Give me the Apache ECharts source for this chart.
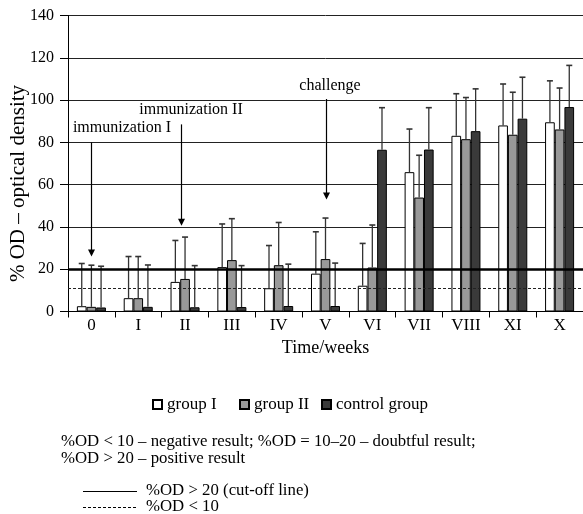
<!DOCTYPE html>
<html>
<head>
<meta charset="utf-8">
<script src="https://cdn.jsdelivr.net/npm/echarts@6/dist/echarts.min.js"></script>
<style>
html,body{margin:0;padding:0;background:#fff;}
#main{width:583px;height:514px;}
</style>
</head>
<body>
<div id="main"></div>
<script>
// ---- data ----
const categories = ['0','I','II','III','IV','V','VI','VII','VIII','XI','X'];
const groupI      = [2.5, 6.3, 14.0, 21.0, 11.0, 17.9, 12.2, 65.9, 83.1, 88.0, 89.5];
const groupIErr   = [22.7, 26.0, 33.6, 41.4, 31.2, 37.7, 32.2, 86.3, 103.0, 107.6, 109.1];
const groupII     = [2.2, 6.3, 15.4, 24.3, 21.9, 24.8, 20.8, 53.9, 81.5, 83.6, 86.1];
const groupIIErr  = [21.9, 26.0, 35.2, 43.9, 42.1, 44.2, 40.9, 73.9, 101.2, 103.7, 105.7];
const control     = [1.9, 2.2, 2.0, 2.1, 2.6, 2.6, 76.5, 76.6, 85.3, 91.2, 96.7];
const controlErr  = [21.4, 22.0, 21.7, 21.7, 22.4, 22.9, 96.4, 96.4, 105.3, 110.8, 116.4];
const seriesNames = ['group I', 'group II', 'control group'];
const yTicks = {min: 0, max: 140, interval: 20};
const cutoffHigh = 20;
const cutoffLow = 10.8;
// annotations: label, category, arrow start value, arrow tip value
const annoLabels = ['immunization I', 'immunization II', 'challenge'];
const annoCats   = ['0', 'II', 'V'];
const annoFrom   = [80, 88.5, 100.5];
const annoTo     = [26, 40.6, 53];

const FONT = 'Liberation Serif';
const colors = ['#ffffff', '#999999', '#3a3a3a'];
const CAT_FILL = 0.62;

const values = [groupI, groupII, control];
const errs = [groupIErr, groupIIErr, controlErr];
const errData = [];
for (let g = 0; g < 3; g++) {
  for (let j = 0; j < categories.length; j++) {
    errData.push([j, values[g][j], errs[g][j], g]);
  }
}

const chart = echarts.init(document.getElementById('main'), null, {renderer: 'canvas'});

const barSeries = seriesNames.map((n, g) => ({
  name: n,
  type: 'bar',
  data: values[g],
  barGap: '0%',
  barCategoryGap: (100 - CAT_FILL * 100) + '%',
  z: 3,
  itemStyle: {color: colors[g], borderColor: '#000', borderWidth: 1},
  emphasis: {disabled: true}
}));

const legendLeft = [147, 234, 316];
const legends = seriesNames.map((n, g) => ({
  data: [n],
  left: legendLeft[g], top: 391,
  icon: 'rect',
  itemWidth: 9, itemHeight: 9,
  textStyle: {fontFamily: FONT, fontSize: 17, color: '#000'},
  selectedMode: false
}));

const option = {
  animation: false,
  backgroundColor: '#fff',
  textStyle: {fontFamily: FONT, color: '#000'},
  grid: {left: 68, top: 15.5, width: 521, height: 296, containLabel: false},
  legend: legends,
  xAxis: {
    type: 'category',
    data: categories,
    name: 'Time/weeks',
    nameLocation: 'middle',
    nameGap: 28,
    nameTextStyle: {fontFamily: FONT, fontSize: 18, color: '#000'},
    axisLine: {lineStyle: {color: '#000', width: 1}},
    axisTick: {show: true, length: 6, lineStyle: {color: '#000'}},
    axisLabel: {fontFamily: FONT, fontSize: 17, color: '#000', margin: 6},
    splitLine: {show: false}
  },
  yAxis: {
    type: 'value',
    min: yTicks.min, max: yTicks.max, interval: yTicks.interval,
    axisLine: {show: true, lineStyle: {color: '#000', width: 1}},
    axisTick: {show: true, length: 8, lineStyle: {color: '#000'}},
    axisLabel: {fontFamily: FONT, fontSize: 16, color: '#000', margin: 14},
    splitLine: {show: true, lineStyle: {color: '#222', width: 1}}
  },
  series: [
    {
      type: 'line', data: [], z: 1, silent: true,
      markLine: {
        silent: true, symbol: 'none', label: {show: false},
        data: [
          {yAxis: cutoffHigh, lineStyle: {color: '#000', width: 2.5, type: 'solid'}},
          {yAxis: cutoffLow, lineStyle: {color: '#222', width: 1, type: [3, 2]}}
        ]
      }
    },
    ...barSeries,
    {
      type: 'custom',
      name: 'err',
      z: 4,
      silent: true,
      data: errData,
      encode: {x: 0, y: [1, 2]},
      renderItem: function (params, api) {
        const j = api.value(0), v = api.value(1), e = api.value(2), g = api.value(3);
        const cw = api.size([1, 0])[0];
        const bw = cw * CAT_FILL / 3;
        const base = api.coord([j, v]);
        const x = base[0] + (g - 1) * bw;
        const y1 = base[1];
        const y2 = api.coord([j, e])[1];
        const st = {stroke: '#333', lineWidth: 1.3};
        return {
          type: 'group',
          children: [
            {type: 'line', shape: {x1: x, y1: y1, x2: x, y2: y2}, style: st},
            {type: 'line', shape: {x1: x - 3, y1: y2, x2: x + 3, y2: y2}, style: {stroke: '#333', lineWidth: 1.6}}
          ]
        };
      }
    }
  ]
};
chart.setOption(option);

// annotations built from data coordinates
const graphics = [];
const annoTextPos = [[122, 128], [191, 110], [330, 86]];
for (let k = 0; k < annoLabels.length; k++) {
  const p1 = chart.convertToPixel({xAxisIndex: 0, yAxisIndex: 0}, [annoCats[k], annoFrom[k]]);
  const p2 = chart.convertToPixel({xAxisIndex: 0, yAxisIndex: 0}, [annoCats[k], annoTo[k]]);
  const dx = k === 1 ? -4 : 0;
  const x = Math.round(p1[0] + dx) + 0.5;
  graphics.push({type: 'line', z: 10, shape: {x1: x, y1: p1[1], x2: x, y2: p2[1] - 6}, style: {stroke: '#000', lineWidth: 1.2}});
  graphics.push({type: 'polygon', z: 10, shape: {points: [[x - 3.5, p2[1] - 7], [x + 3.5, p2[1] - 7], [x, p2[1]]]}, style: {fill: '#000'}});
  graphics.push({type: 'text', z: 10, x: annoTextPos[k][0], y: annoTextPos[k][1],
    style: {text: annoLabels[k], font: '16px "' + FONT + '"', fill: '#000', align: 'center', verticalAlign: 'middle'}});
}
// y axis title
graphics.push({type: 'text', x: 18, y: 183.5, rotation: Math.PI / 2,
  style: {text: '% OD – optical density', font: '21px "' + FONT + '"', fill: '#000', align: 'center', verticalAlign: 'middle'}});
const note = (t, x, y) => ({type: 'text', x: x, y: y, style: {text: t, font: '16.8px "' + FONT + '"', fill: '#000', align: 'left', verticalAlign: 'middle'}});
graphics.push(note('%OD < 10 – negative result; %OD = 10–20 – doubtful result;', 61, 442));
graphics.push(note('%OD > 20 – positive result', 61, 459));
graphics.push({type: 'line', shape: {x1: 83, y1: 491.5, x2: 137, y2: 491.5}, style: {stroke: '#000', lineWidth: 1}});
graphics.push(note('%OD > 20 (cut-off line)', 146, 491));
graphics.push({type: 'line', shape: {x1: 83, y1: 507.5, x2: 137, y2: 507.5}, style: {stroke: '#000', lineWidth: 1, lineDash: [3, 2]}});
graphics.push(note('%OD < 10', 146, 507));
chart.setOption({graphic: graphics});
</script>
</body>
</html>
